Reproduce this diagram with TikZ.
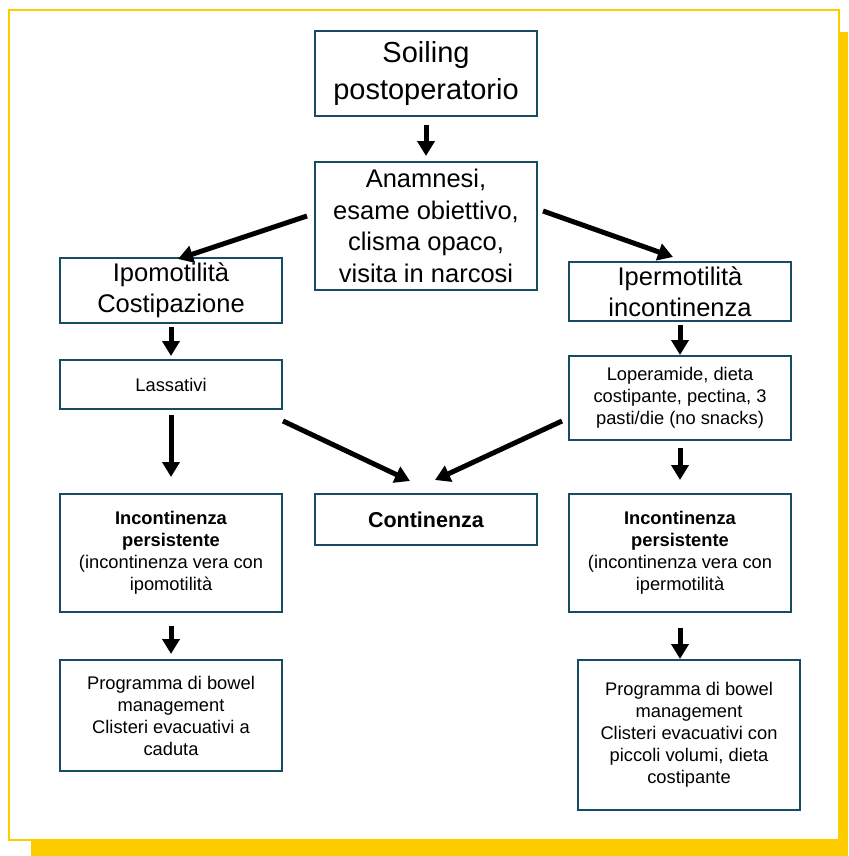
\documentclass[tikz,border=0pt]{standalone}
\usepackage{fontspec}
\setmainfont{Liberation Sans}
\usetikzlibrary{arrows.meta,calc}
\definecolor{framey}{RGB}{255,204,0}
\definecolor{boxcol}{RGB}{24,76,98}
\newcommand\txtS{\fontsize{18.3pt}{22pt}\selectfont}
\newcommand\txtM{\fontsize{21.5pt}{26pt}\selectfont}
\newcommand\txtL{\fontsize{25.5pt}{31.5pt}\selectfont}
\newcommand\txtXL{\fontsize{29pt}{37pt}\selectfont}
\tikzset{
  box/.style={draw=boxcol, line width=2pt, minimum width=222pt, inner sep=0pt, align=center},
  arr/.style={line width=5pt, -{Triangle[length=15pt,width=17pt]}}
}
\begin{document}
\begin{tikzpicture}[x=1pt,y=-1pt]
\useasboundingbox (0,0) rectangle (848,856);
% frame with shadow
\fill[framey] (31,32) rectangle (848,856);
\filldraw[fill=white,draw=framey,line width=2pt] (9,10) rectangle (839,840);
% boxes
\node[box,minimum height=85pt,font=\txtXL]  (soil)  at (426,73.5)  {Soiling\\postoperatorio};
\node[box,minimum height=128pt,font=\txtL]  (anam)  at (426,226)   {Anamnesi,\\esame obiettivo,\\clisma opaco,\\visita in narcosi};
\node[box,minimum height=65pt,font=\txtL]   (ipo)   at (171,290.5) {Ipomotilità\\Costipazione};
\node[box,minimum height=59pt,font=\txtL]   (iper)  at (680,291.5) {Ipermotilità\\incontinenza};
\node[box,minimum height=49pt,font=\txtS]   (lass)  at (171,384.5) {Lassativi};
\node[box,minimum height=84pt,font=\txtS]   (lop)   at (680,398)   {Loperamide, dieta\\costipante, pectina, 3\\pasti/die (no snacks)};
\node[box,minimum height=51pt,font=\txtM]   (cont)  at (426,519.5) {\textbf{Continenza}};
\node[box,minimum height=118pt,font=\txtS]  (incL)  at (171,553)   {\textbf{Incontinenza}\\\textbf{persistente}\\(incontinenza vera con\\ipomotilità};
\node[box,minimum height=118pt,font=\txtS]  (incR)  at (680,553)   {\textbf{Incontinenza}\\\textbf{persistente}\\(incontinenza vera con\\ipermotilità};
\node[box,minimum height=111pt,font=\txtS]  (progL) at (171,715.5) {Programma di bowel\\management\\Clisteri evacuativi a\\caduta};
\node[box,minimum height=150pt,font=\txtS]  (progR) at (689,735)   {Programma di bowel\\management\\Clisteri evacuativi con\\piccoli volumi, dieta\\costipante};
% arrows
\draw[arr,shorten <=8pt,shorten >=5pt] (soil) -- (anam);
\draw[arr] ($(anam.west)+(-7,-10)$) -- ($(ipo.north)+(7,2)$);
\draw[arr] ($(anam.east)+(5,-15)$) -- ($(iper.north)+(-7,-4)$);
\draw[arr,shorten <=3pt,shorten >=3pt] (ipo) -- (lass);
\draw[arr,shorten <=3pt] (iper) -- (lop);
\draw[arr,shorten <=5pt,shorten >=16pt] (lass) -- (incL);
\draw[arr] ($(lass.south east)+(0,11)$) -- ($(cont.north)+(-16,-12)$);
\draw[arr] ($(lop.south west)+(-6,-20)$) -- ($(cont.north)+(9,-13)$);
\draw[arr,shorten <=7pt,shorten >=13pt] (lop) -- (incR);
\draw[arr,shorten <=13pt,shorten >=5pt] (incL) -- (progL);
\draw[arr,shorten <=15pt] (incR.south) -- (incR.south |- progR.north);
\end{tikzpicture}
\end{document}
